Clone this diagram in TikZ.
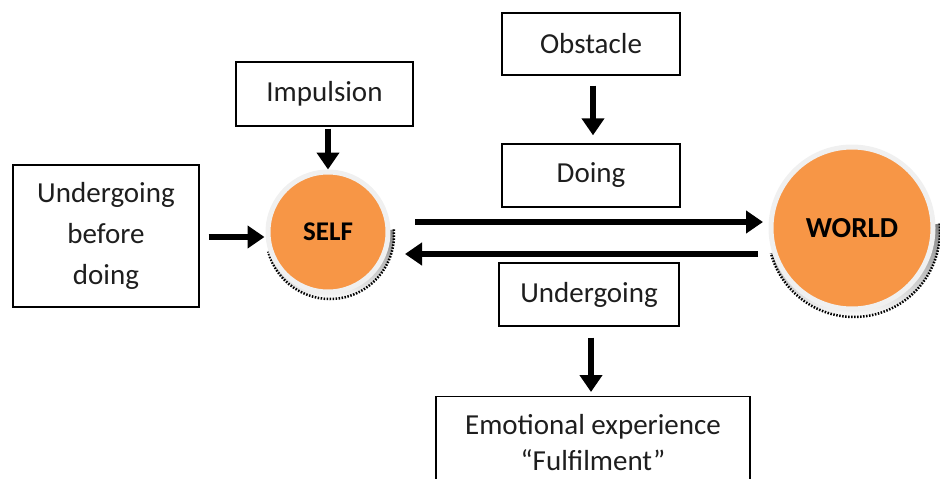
\documentclass[tikz,border=0pt]{standalone}
\usepackage{fontspec}
\setmainfont{Carlito}
\usetikzlibrary{arrows.meta}
\definecolor{orng}{HTML}{F79646}
\definecolor{ring}{HTML}{F0F0F0}
\definecolor{shade}{HTML}{D4A070}
\definecolor{txt}{HTML}{1E1E1E}
\begin{document}
\begin{tikzpicture}[x=1pt,y=-1pt,
  box/.style={draw=black, line width=1.4pt, rectangle, align=center, text=txt,
    font=\fontsize{29}{41}\selectfont, inner sep=0pt},
  ball/.style={circle, fill=orng, draw=ring, line width=5pt, text=black, inner sep=0pt},
  arr/.style={line width=6pt, -{Triangle[length=17pt,width=22pt]}},
  shadowline/.style={shade, dash pattern=on 1.5pt off 1.5pt, line width=2.5pt}
]
\useasboundingbox (0,0) rectangle (940,479);
\clip (0,0) rectangle (940,479);

\node[box, minimum width=186, minimum height=142] (ubd) at (106,236) {Undergoing\\before\\doing};
\node[box, minimum width=177, minimum height=64] (imp) at (324.5,94) {Impulsion};
\node[box, minimum width=178, minimum height=62] (obs) at (591,44) {Obstacle};
\node[box, minimum width=178, minimum height=63] (doing) at (591,175.5) {Doing};
\node[box, minimum width=180, minimum height=63] (und) at (589,294.5) {Undergoing};
\node[box, minimum width=314, minimum height=92, anchor=north,
  font=\fontsize{29}{36}\selectfont] (emo) at (593,396) {Emotional experience\\``Fulfilment''};

% shadows of the circles
\draw[shadowline] (330,235) ++(-5:64) arc[start angle=-5, end angle=165, radius=64];
\draw[shadowline] (854,231) ++(-5:86) arc[start angle=-5, end angle=165, radius=86];

\node[ball, minimum size=120, font=\fontsize{27}{30}\selectfont\bfseries] (self) at (328,232) {SELF};
\node[ball, minimum size=162, font=\fontsize{29}{30}\selectfont\bfseries] (world) at (852,228) {WORLD};

\coordinate (a1) at (415,222);
\coordinate (a2) at (763,222);
\coordinate (b1) at (758,254);
\coordinate (b2) at (405,254);

\draw[arr, shorten <=9pt, shorten >=1pt] (ubd.east |- 0,237) -- (self.west |- 0,237);
\draw[arr, shorten <=2pt] (self.north |- imp.south) -- (self.north);
\draw[arr, shorten <=10pt, shorten >=8pt] (obs.south -| 593,0) -- (doing.north -| 593,0);
\draw[arr] (a1) -- (a2);
\draw[arr] (b1) -- (b2);
\draw[arr, shorten <=11pt, shorten >=4pt] (und.south -| 591,0) -- (emo.north -| 591,0);
\end{tikzpicture}
\end{document}
